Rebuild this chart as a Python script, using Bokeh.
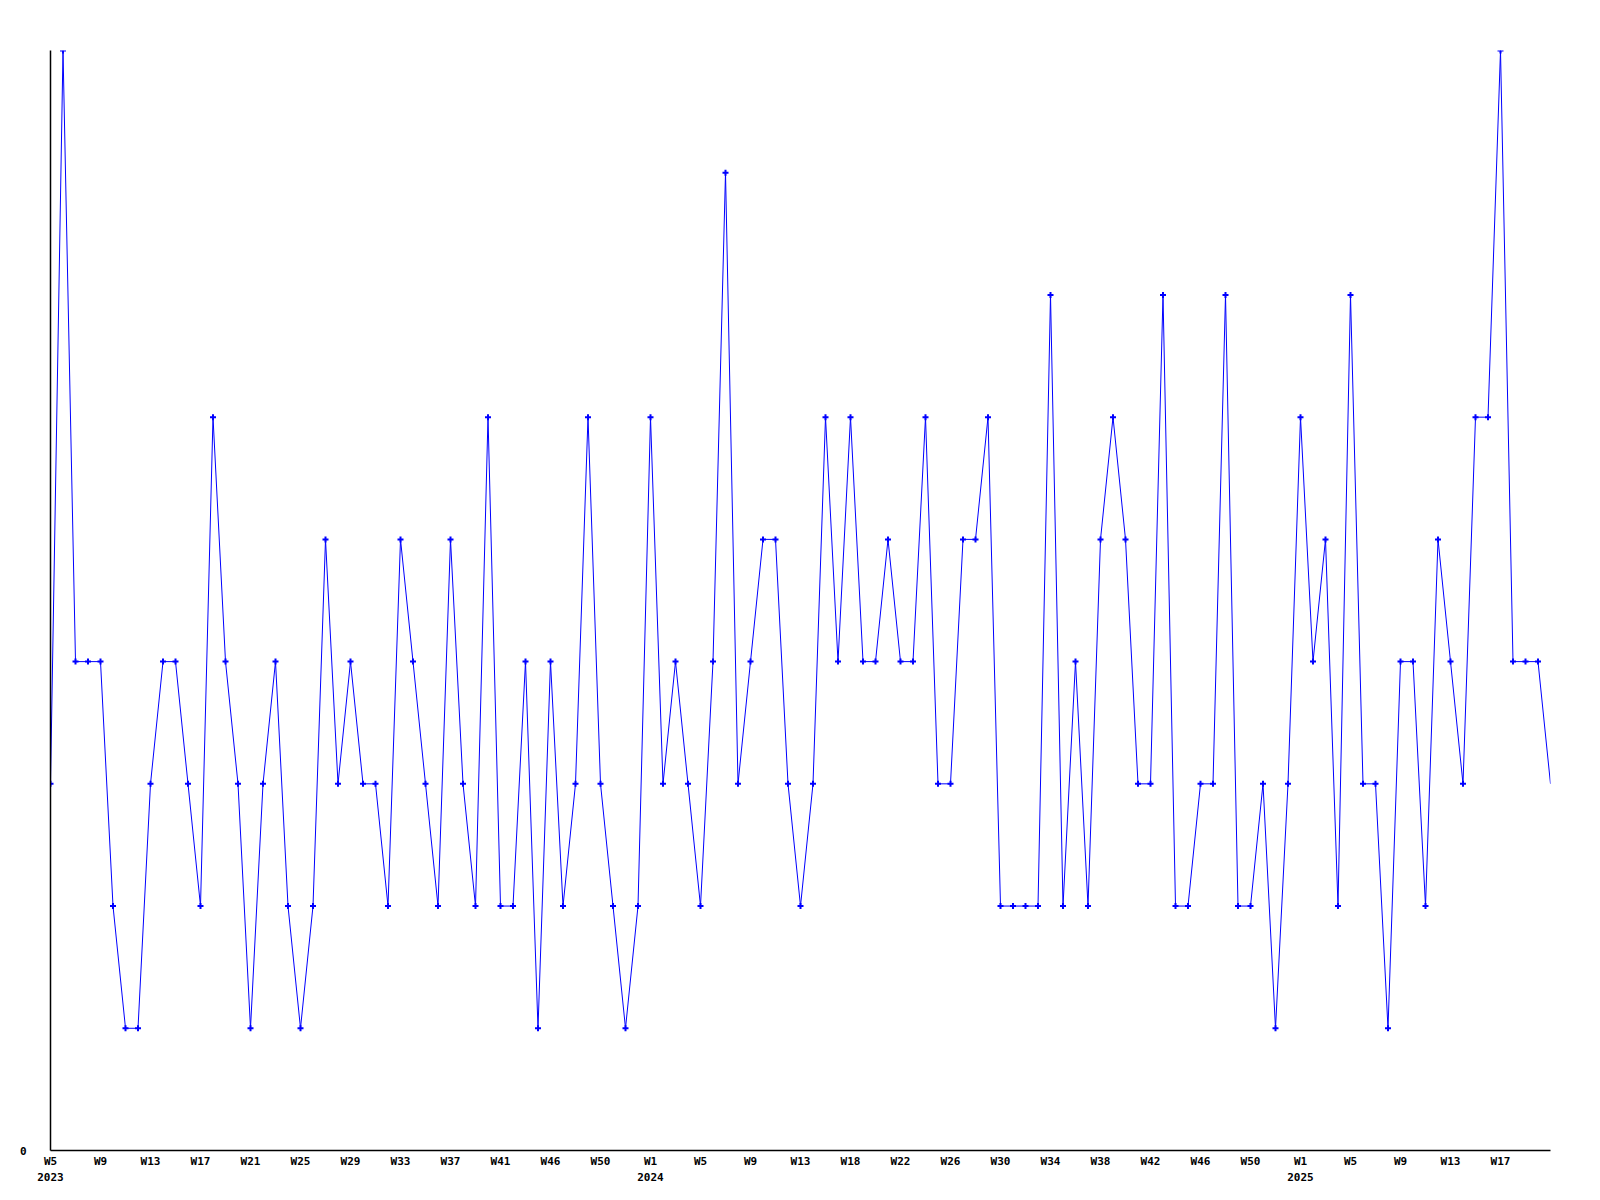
from bokeh.plotting import figure
from bokeh.models import Range1d, FixedTicker, LinearAxis
from bokeh.embed import file_html
from bokeh.resources import INLINE

values = [3, 9, 4, 4, 4, 2, 1, 1, 3, 4, 4, 3, 2, 6, 4, 3, 1, 3, 4, 2,
          1, 2, 5, 3, 4, 3, 3, 2, 5, 4, 3, 2, 5, 3, 2, 6, 2, 2, 4, 1,
          4, 2, 3, 6, 3, 2, 1, 2, 6, 3, 4, 3, 2, 4, 8, 3, 4, 5, 5, 3,
          2, 3, 6, 4, 6, 4, 4, 5, 4, 4, 6, 3, 3, 5, 5, 6, 2, 2, 2, 2,
          7, 2, 4, 2, 5, 6, 5, 3, 3, 7, 2, 2, 3, 3, 7, 2, 2, 3, 1, 3,
          6, 4, 5, 2, 7, 3, 3, 1, 4, 4, 2, 5, 4, 3, 6, 6, 9, 4, 4, 4,
          3]
weeks = list(range(len(values)))

tick_idx = [0, 4, 8, 12, 16, 20, 24, 28, 32, 36, 40, 44, 48, 52, 56, 60, 64, 68,
            72, 76, 80, 84, 88, 92, 96, 100, 104, 108, 112, 116]
tick_labels = ["W5", "W9", "W13", "W17", "W21", "W25", "W29", "W33", "W37", "W41",
               "W46", "W50", "W1", "W5", "W9", "W13", "W18", "W22", "W26", "W30",
               "W34", "W38", "W42", "W46", "W50", "W1", "W5", "W9", "W13", "W17"]
year_idx = [0, 48, 100]
year_labels = ["2023", "2024", "2025"]

FONT = "DejaVu Sans Mono"

p = figure(frame_width=1500, frame_height=1100, output_backend="svg",
           toolbar_location=None, x_range=Range1d(0, len(values) - 1),
           y_range=Range1d(0, 9), min_border_left=50, min_border_right=42,
           min_border_top=50, min_border_bottom=42)
p.outline_line_color = None
p.xgrid.visible = False
p.ygrid.visible = False
p.background_fill_color = "white"
p.border_fill_color = "white"

xa = p.xaxis[0]
xa.ticker = FixedTicker(ticks=tick_idx)
xa.major_label_overrides = {i: l for i, l in zip(tick_idx, tick_labels)}
xa.major_tick_line_color = None
xa.minor_tick_line_color = None
xa.major_label_standoff = -2
xa.major_label_text_font = FONT
xa.major_label_text_font_style = "bold"
xa.major_label_text_font_size = "11px"
xa.major_label_text_color = "black"
xa.axis_line_color = "black"
xa.axis_line_width = 1.5

ya = p.yaxis[0]
ya.ticker = FixedTicker(ticks=[0])
ya.major_label_overrides = {0: "0"}
ya.major_tick_line_color = None
ya.minor_tick_line_color = None
ya.major_label_standoff = 18
ya.major_label_text_font = FONT
ya.major_label_text_font_style = "bold"
ya.major_label_text_font_size = "11px"
ya.major_label_text_color = "black"
ya.axis_line_color = "black"
ya.axis_line_width = 1.5

ya2 = LinearAxis(ticker=FixedTicker(ticks=year_idx),
                 major_label_overrides={i: l for i, l in zip(year_idx, year_labels)})
ya2.axis_line_color = None
ya2.major_tick_line_color = None
ya2.minor_tick_line_color = None
ya2.major_label_standoff = -4
ya2.major_label_text_font = FONT
ya2.major_label_text_font_style = "bold"
ya2.major_label_text_font_size = "11px"
ya2.major_label_text_color = "black"
p.add_layout(ya2, "below")

p.line(weeks, values, line_color="#0000ff", line_width=1)
p.scatter(weeks[:-1], values[:-1], marker="cross", size=6, line_width=2,
          line_color="#0000ff")

open("out.html", "w").write(file_html(p, INLINE))
